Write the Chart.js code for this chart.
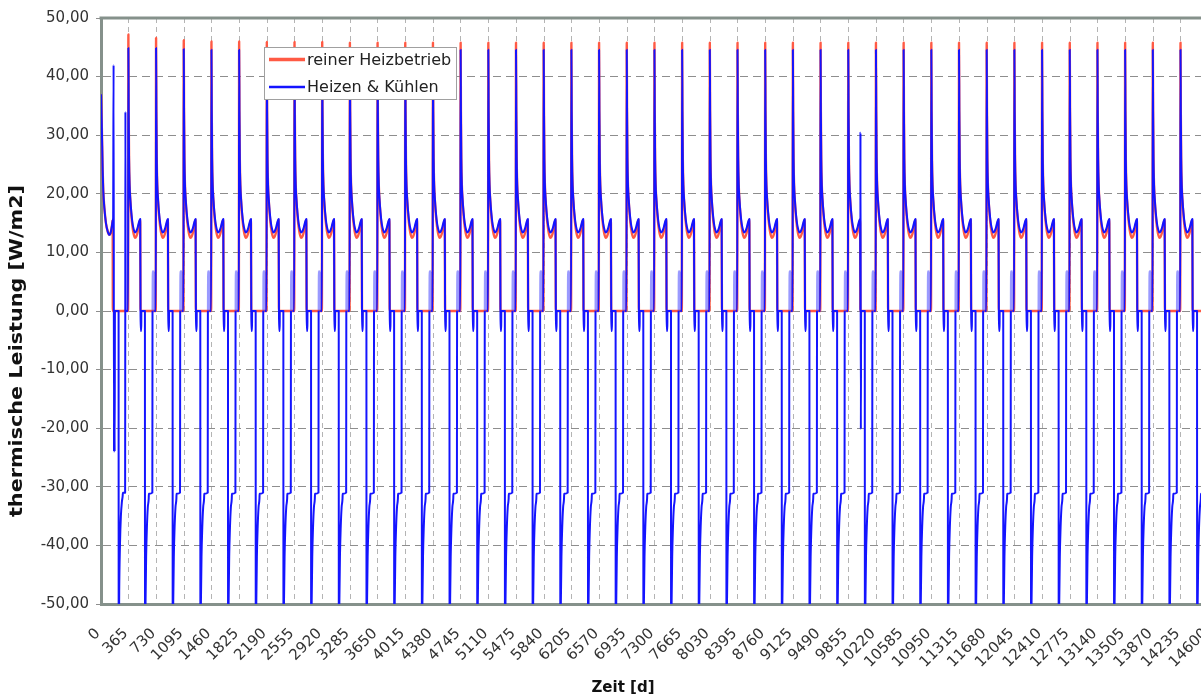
<!DOCTYPE html>
<html>
<head>
<meta charset="utf-8">
<script src="https://cdn.jsdelivr.net/npm/chart.js@4.4.1/dist/chart.umd.min.js"></script>
<style>
html,body{margin:0;padding:0;background:#fff;overflow:hidden;width:1201px;height:697px}
#wrap{position:relative;width:1249px;height:697px}
canvas{display:block}
</style>
</head>
<body>
<div id="wrap"><canvas id="c" width="1249" height="697"></canvas></div>
<script>
// ---------------- data ----------------
const seriesLabels = ['reiner Heizbetrieb', 'Heizen & Kühlen'];
const xTitle = 'Zeit [d]';
const yTitle = 'thermische Leistung [W/m2]';

const xTickValues = [0, 365, 730, 1095, 1460, 1825, 2190, 2555, 2920, 3285,
  3650, 4015, 4380, 4745, 5110, 5475, 5840, 6205, 6570, 6935,
  7300, 7665, 8030, 8395, 8760, 9125, 9490, 9855, 10220, 10585,
  10950, 11315, 11680, 12045, 12410, 12775, 13140, 13505, 13870, 14235, 14600];
const yTickValues = [-50, -40, -30, -20, -10, 0, 10, 20, 30, 40, 50];

// first year (days from 0)
const firstYearDays = [0, 10, 22, 30, 45, 65, 90, 110, 130, 145, 154, 160, 166, 171, 174, 180, 184,
  232, 233, 240, 250, 262, 276, 286, 288, 318, 320, 322, 325];
const firstYearBlue = [37, 32, 24, 20.5, 17.5, 15, 13.5, 13, 13.5, 14.6, 15.5, 15.8, 42, -24, 0, -24, 0,
  0, -62, -48, -40, -35, -32.5, -31.5, -31, -31, 0, 34, 0];
const firstYearRedDays = [0, 10, 22, 30, 45, 65, 90, 110, 130, 145, 154, 156];
const firstYearRed = [37, 32, 24, 20.5, 17.5, 15, 13.5, 13, 13.5, 14.6, 15.5, 0];

// heating season of each following year (days relative to the year tick, null = yearly peak)
const heatDays = [-8, -4, 0, 5, 12, 22, 35, 50, 65, 84, 100, 115, 136, 152, 156];
const heatBlue = [0, null, 34, 26, 21.5, 19, 16.8, 15, 14, 13.4, 13.6, 14.1, 15.2, 15.7, 0];
const heatRed  = [0, null, 34, 26, 21.5, 18.8, 16.3, 14.4, 13.2, 12.5, 12.7, 13.3, 14.7, 15.6, 0];

// yearly heating peaks, years 1..40
const redPeaks = [47.2, 46.6, 46.2, 46.0, 46.0, 45.9, 45.9, 45.9, 45.8, 45.8,
  45.8, 45.8, 45.8, 45.8, 45.8, 45.8, 45.8, 45.8, 45.8, 45.8,
  45.8, 45.8, 45.8, 45.8, 45.8, 45.8, 45.8, 45.8, 45.8, 45.8,
  45.8, 45.8, 45.8, 45.8, 45.8, 45.8, 45.8, 45.8, 45.8, 45.8];
const bluePeaks = [44.9, 44.9, 44.7, 44.6, 44.6, 44.6, 44.6, 44.6, 44.6, 44.6,
  44.6, 44.6, 44.6, 44.6, 44.6, 44.6, 44.6, 44.6, 44.6, 44.6,
  44.6, 44.6, 44.6, 44.6, 44.6, 44.6, 44.6, 44.6, 44.6, 44.6,
  44.6, 44.6, 44.6, 44.6, 44.6, 44.6, 44.6, 44.6, 44.6, 44.6];

// summer / cooling season of "Heizen & Kühlen" (days relative to the year tick)
const summerDays = [158, 166, 167, 214, 215, 222, 230, 240, 252, 264, 266, 312, 314,
  318, 320, 326, 328, 334, 336];
const summerBlue = [-3.4, -3.4, 0, 0, -62, -50, -42, -37, -33.5, -32, -31.2, -31, 0,
  6.8, 0, 6.8, 0, 6.8, 0];

// the one deviating year (year 27)
const oddYear = 27;
const oddDays = [157, 162, 166];
const oddBlue = [30.4, -20.2, 0];

// ---------------- build point lists ----------------
const bluePoints = [];
const redPoints = [];
firstYearDays.forEach((d, i) => bluePoints.push({ x: d, y: firstYearBlue[i] }));
firstYearRedDays.forEach((d, i) => redPoints.push({ x: d, y: firstYearRed[i] }));
for (let k = 1; k <= redPeaks.length; k++) {
  const start = xTickValues[k];
  heatDays.forEach((d, i) => {
    bluePoints.push({ x: start + d, y: heatBlue[i] === null ? bluePeaks[k - 1] : heatBlue[i] });
    redPoints.push({ x: start + d, y: heatRed[i] === null ? redPeaks[k - 1] : heatRed[i] });
  });
  if (k < redPeaks.length) {
    const days = k === oddYear ? oddDays.concat(summerDays.slice(3)) : summerDays;
    const vals = k === oddYear ? oddBlue.concat(summerBlue.slice(3)) : summerBlue;
    days.forEach((d, i) => bluePoints.push({ x: start + d, y: vals[i] }));
  }
}

// ---------------- drawing ----------------
const frameColor = '#85918b';
const FONT = '"DejaVu Sans", "Liberation Sans", sans-serif';

const decorPlugin = {
  id: 'decor',
  afterDatasetsDraw(chart) {
    const ctx = chart.ctx;
    const a = chart.chartArea;
    ctx.save();
    // top frame line
    ctx.strokeStyle = frameColor;
    ctx.lineWidth = 3;
    ctx.beginPath();
    ctx.moveTo(a.left - 1.5, a.top);
    ctx.lineTo(a.right, a.top);
    ctx.stroke();
    // legend box
    const bx = 264.5, by = 47.5, bw = 192, bh = 52;
    ctx.fillStyle = '#ffffff';
    ctx.fillRect(bx, by, bw, bh);
    ctx.strokeStyle = '#a0a0a0';
    ctx.lineWidth = 1;
    ctx.strokeRect(bx, by, bw, bh);
    const ds = chart.data.datasets;
    const rows = [59.5, 87];
    ds.forEach((d, i) => {
      ctx.strokeStyle = d.borderColor;
      ctx.lineWidth = i === 0 ? 3.5 : 2.5;
      ctx.beginPath();
      ctx.moveTo(269, rows[i]);
      ctx.lineTo(305, rows[i]);
      ctx.stroke();
      ctx.fillStyle = '#222';
      ctx.font = '16px ' + FONT;
      ctx.textAlign = 'left';
      ctx.textBaseline = 'middle';
      ctx.fillText(d.label, 307, rows[i] + 1);
    });
    ctx.restore();
  },
  afterDraw(chart) {
    const ctx = chart.ctx;
    ctx.save();
    ctx.fillStyle = '#111';
    ctx.textAlign = 'center';
    ctx.textBaseline = 'middle';
    ctx.font = 'bold 17px ' + FONT;
    ctx.translate(18, 351);
    ctx.rotate(-Math.PI / 2);
    ctx.scale(1.22, 1);
    ctx.fillText(yTitle, 0, 0);
    ctx.restore();
    ctx.save();
    ctx.fillStyle = '#111';
    ctx.textAlign = 'center';
    ctx.textBaseline = 'middle';
    ctx.font = 'bold 15px ' + FONT;
    ctx.fillText(xTitle, 623, 688);
    ctx.restore();
  }
};

new Chart(document.getElementById('c'), {
  type: 'line',
  data: {
    datasets: [
      { label: seriesLabels[0], data: redPoints, borderColor: '#ff5a44', borderWidth: 2.4,
        pointRadius: 0, cubicInterpolationMode: 'monotone', borderJoinStyle: 'round',
        order: 1, fill: false },
      { label: seriesLabels[1], data: bluePoints, borderColor: '#1414ff', borderWidth: 2,
        pointRadius: 0, cubicInterpolationMode: 'monotone', borderJoinStyle: 'round',
        order: 0, fill: false,
        segment: {
          borderColor: c => {
            const a = c.p0.parsed.y, b = c.p1.parsed.y;
            const hi = Math.max(a, b), lo = Math.min(a, b);
            return (lo >= 0 && hi > 0 && hi < 8) ? 'rgba(30,30,255,0.45)' : undefined;
          }
        } }
    ]
  },
  options: {
    responsive: false,
    animation: false,
    devicePixelRatio: 1,
    layout: { padding: { top: 18, right: 40.5, bottom: 0, left: 0 } },
    plugins: { legend: { display: false }, tooltip: { enabled: false } },
    scales: {
      x: {
        type: 'linear', min: 0, max: 14600,
        afterBuildTicks: s => { s.ticks = xTickValues.map(v => ({ value: v })); },
        afterFit: s => { s.height = 93; },
        grid: { color: '#b4b4b4', lineWidth: 1, drawTicks: false },
        border: { color: frameColor, width: 3, dash: [5, 4] },
        ticks: {
          autoSkip: false, minRotation: 45, maxRotation: 45, padding: 21, labelOffset: -3,
          color: '#333', font: { family: FONT, size: 15 },
          callback: v => String(v)
        }
      },
      y: {
        min: -50, max: 50,
        afterBuildTicks: s => { s.ticks = yTickValues.map(v => ({ value: v })); },
        afterFit: s => { s.width = 101; },
        grid: { color: '#8e8e8e', lineWidth: 1, tickLength: 5, tickColor: '#8e8e8e' },
        border: { color: frameColor, width: 3, dash: [8, 5] },
        ticks: {
          padding: 7, color: '#333', font: { family: FONT, size: 15 },
          callback: v => v.toFixed(2).replace('.', ',')
        }
      }
    }
  },
  plugins: [decorPlugin]
});
</script>
</body>
</html>
